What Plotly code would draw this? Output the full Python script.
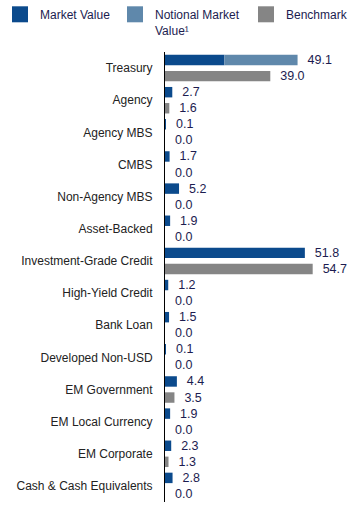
import plotly.graph_objects as go

categories = ["Treasury", "Agency", "Agency MBS", "CMBS", "Non-Agency MBS", "Asset-Backed",
              "Investment-Grade Credit", "High-Yield Credit", "Bank Loan", "Developed Non-USD",
              "EM Government", "EM Local Currency", "EM Corporate", "Cash & Cash Equivalents"]
market_value = [22.0, 2.7, 0.1, 1.7, 5.2, 1.9, 51.8, 1.2, 1.5, 0.1, 4.4, 1.9, 2.3, 2.8]
notional_value = [27.1, None, None, None, None, None, None, None, None, None, None, None, None, None]
benchmark = [39.0, 1.6, 0.0, 0.0, 0.0, 0.0, 54.7, 0.0, 0.0, 0.0, 3.5, 0.0, 1.3, 0.0]
legend_names = ["Market Value", "Notional Market<br>Value¹", "Benchmark"]

C_MV = "#0b4a8c"
C_NOT = "#5f88ab"
C_BM = "#858585"
TXT = "#1c1c50"
PAD = "\u00a0\u00a0"
FONT = "Liberation Sans, Arial, sans-serif"

mv_text = []
not_text = []
for m, n in zip(market_value, notional_value):
    if n is None:
        mv_text.append(PAD + f"{m:.1f}")
        not_text.append("")
    else:
        mv_text.append("")
        not_text.append(PAD + f"{m + n:.1f}")
bm_text = [PAD + f"{b:.1f}" for b in benchmark]

fig = go.Figure()
common = dict(orientation="h", textposition="outside", cliponaxis=False,
              constraintext="none", textfont=dict(family=FONT, size=12.5, color=TXT),
              showlegend=False, hoverinfo="skip", marker_line_width=0)
fig.add_trace(go.Bar(y=categories, x=market_value, text=mv_text, offsetgroup="a",
                     marker_color=C_MV, **common))
fig.add_trace(go.Bar(y=categories, x=notional_value, base=market_value, text=not_text,
                     offsetgroup="a", marker_color=C_NOT, **common))
fig.add_trace(go.Bar(y=categories, x=benchmark, text=bm_text, offsetgroup="b",
                     marker_color=C_BM, **common))

legend_ids = ["legend", "legend2", "legend3"]
for name, col, lid in zip(legend_names, [C_MV, C_NOT, C_BM], legend_ids):
    fig.add_trace(go.Scatter(x=[None], y=[None], mode="markers", name=name, legend=lid,
                             marker=dict(symbol="square", size=16, color=col, line_width=0),
                             showlegend=True, hoverinfo="skip"))

leg_common = dict(orientation="h", xanchor="left", xref="container",
                  y=1, yanchor="top", yref="container",
                  valign="top", font=dict(family=FONT, size=12, color=TXT),
                  bgcolor="rgba(0,0,0,0)")
fig.update_layout(
    width=354, height=505,
    margin=dict(l=165, r=0, t=52, b=3, autoexpand=False),
    paper_bgcolor="white", plot_bgcolor="white",
    font=dict(family=FONT, size=12, color="#222222"),
    barmode="group", bargap=0.0, bargroupgap=0.35,
    legend=dict(x=-3 / 354, **leg_common),
    legend2=dict(x=115 / 354, **leg_common),
    legend3=dict(x=246 / 354, **leg_common),
)
fig.update_xaxes(range=[0, 70], visible=False, showgrid=False, zeroline=False)
fig.update_yaxes(autorange="reversed", showline=True, linecolor="black", linewidth=1,
                 showgrid=False, ticks="", ticklabelstandoff=9,
                 tickfont=dict(family=FONT, size=12, color="#222222"))

fig.write_html("out.html")
